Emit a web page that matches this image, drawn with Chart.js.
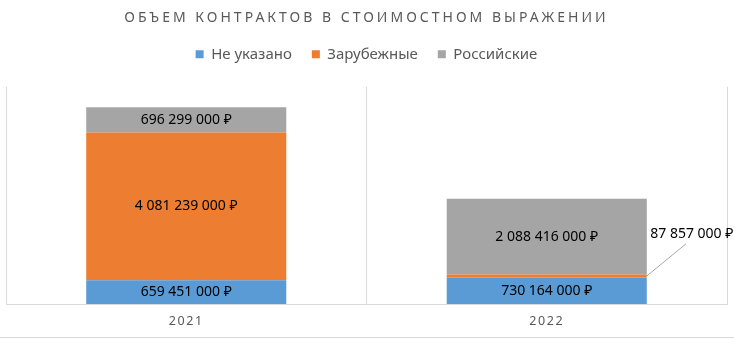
<!DOCTYPE html>
<html>
<head>
<meta charset="utf-8">
<script src="https://cdn.jsdelivr.net/npm/chart.js@4.4.0/dist/chart.umd.min.js"></script>
<style>
body{margin:0;background:#fff;}
#box{width:734px;height:340px;}
</style>
</head>
<body>
<div id="box"><canvas id="canvas"></canvas></div>
<script>
var years = ["2021", "2022"];
var notSpecified = [659451000, 730164000];
var foreign = [4081239000, 87857000];
var russian = [696299000, 2088416000];
var seriesNames = ["Не указано", "Зарубежные", "Российские"];
var yMax = 6000000000;

var gridColor = "#d9d9d9";
var textColor = "#595959";

function money(v){
	return String(v).replace(/\B(?=(\d{3})+(?!\d))/g, " ") + " ₽";
}

// canvas letterSpacing for title and axis labels
function patch(obj, name, sp){
	if(!obj || obj["_sp_" + name]) return;
	var orig = obj[name];
	obj[name] = function(){
		var ctx = this.ctx;
		ctx.save();
		ctx.letterSpacing = sp;
		orig.apply(this, arguments);
		ctx.restore();
	};
	obj["_sp_" + name] = true;
}

var spacingPlugin = {
	id: "spacing",
	beforeInit: function(chart){
		// extra room under the legend
		var fit = chart.legend.fit;
		chart.legend.fit = function(){
			fit.call(this);
			this.height += 15;
		};
	},
	afterLayout: function(chart){
		patch(chart.titleBlock, "draw", "3px");
		patch(chart.scales.x, "drawLabels", "1.6px");
	}
};

var labelPlugin = {
	id: "barLabels",
	afterDatasetsDraw: function(chart){
		var ctx = chart.ctx;
		ctx.save();
		ctx.font = "14px 'Noto Sans'";
		ctx.fillStyle = "#000";
		ctx.textAlign = "center";
		ctx.textBaseline = "middle";
		chart.data.datasets.forEach(function(ds, i){
			chart.getDatasetMeta(i).data.forEach(function(bar, j){
				var p = bar.getProps(["x", "y", "base", "width"], true);
				var h = p.base - p.y;
				var cy = (p.y + p.base) / 2;
				var text = money(ds.data[j]);
				if(h > 16){
					ctx.fillText(text, p.x, cy);
				}else{
					var right = p.x + p.width / 2;
					ctx.strokeStyle = "#a6a6a6";
					ctx.lineWidth = 1;
					ctx.beginPath();
					ctx.moveTo(right, cy);
					ctx.lineTo(right + 39, cy - 32);
					ctx.stroke();
					ctx.fillText(text, right + 45, cy - 42);
				}
			});
		});
		ctx.restore();
	}
};

var framePlugin = {
	id: "frame",
	afterDraw: function(chart){
		var ctx = chart.ctx;
		ctx.save();
		ctx.strokeStyle = gridColor;
		ctx.lineWidth = 1;
		ctx.beginPath();
		ctx.moveTo(0, 337.5);
		ctx.lineTo(chart.width, 337.5);
		ctx.stroke();
		ctx.restore();
	}
};

var canvas = document.getElementById("canvas");
var ctx = canvas.getContext("2d");

var chart = new Chart(ctx, {
	type: "bar",
	data: {
		labels: years,
		datasets: [
			{label: seriesNames[0], data: notSpecified, backgroundColor: "#5b9bd5", borderWidth: 0},
			{label: seriesNames[1], data: foreign, backgroundColor: "#ed7d31", borderWidth: 0},
			{label: seriesNames[2], data: russian, backgroundColor: "#a5a5a5", borderWidth: 0}
		]
	},
	options: {
		responsive: true,
		maintainAspectRatio: false,
		animation: false,
		layout: {padding: {left: 6, right: 7, top: 0, bottom: 1}},
		datasets: {bar: {categoryPercentage: 1, barPercentage: 0.555}},
		plugins: {
			title: {
				display: true,
				text: "ОБЪЕМ КОНТРАКТОВ В СТОИМОСТНОМ ВЫРАЖЕНИИ",
				color: textColor,
				font: {family: "'Noto Sans'", size: 14, weight: "normal"},
				padding: {top: 10, bottom: 0}
			},
			legend: {
				position: "top",
				labels: {
					boxWidth: 8,
					boxHeight: 8,
					padding: 20,
					color: textColor,
					font: {family: "'Noto Sans'", size: 15}
				}
			},
			tooltip: {enabled: false}
		},
		scales: {
			x: {
				stacked: true,
				grid: {color: gridColor, drawTicks: false},
				border: {color: gridColor},
				ticks: {color: textColor, padding: 10, font: {family: "'Noto Sans'", size: 12.5}}
			},
			y: {
				stacked: true,
				display: false,
				min: 0,
				max: yMax
			}
		}
	},
	plugins: [spacingPlugin, labelPlugin, framePlugin]
});
chart.draw();
</script>
</body>
</html>
